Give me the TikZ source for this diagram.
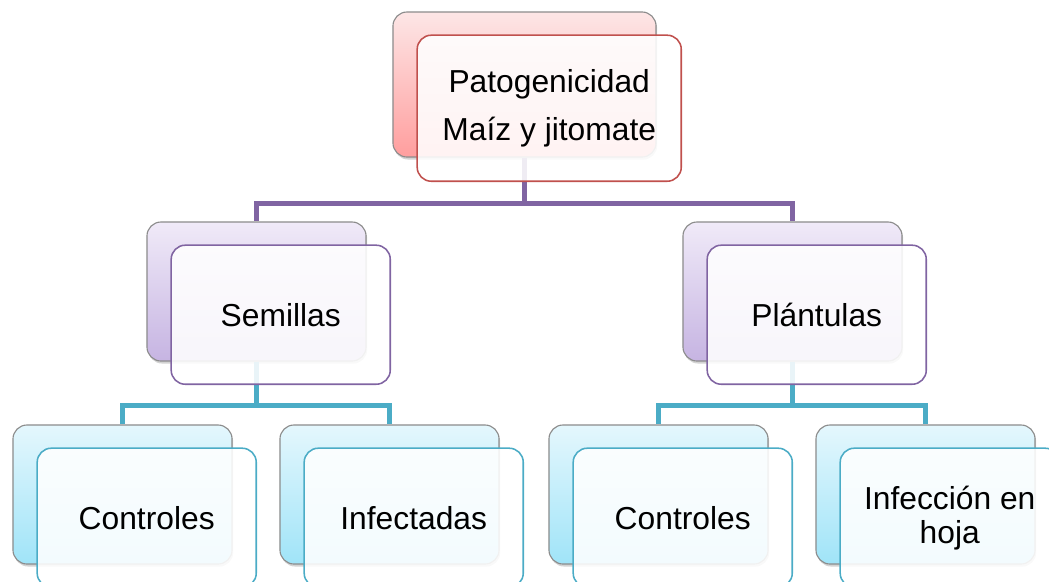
\documentclass[tikz,border=0pt]{standalone}
\usepackage{fontspec}
\setmainfont{Liberation Sans}
\usepackage{xcolor}
\definecolor{myred}{RGB}{192,80,77}
\definecolor{mypurple}{RGB}{128,100,162}
\definecolor{myteal}{RGB}{75,172,198}
\definecolor{redtop}{RGB}{253,230,230}
\definecolor{redbot}{RGB}{255,158,158}
\definecolor{purtop}{RGB}{240,234,248}
\definecolor{purbot}{RGB}{198,180,226}
\definecolor{tealtop}{RGB}{228,247,253}
\definecolor{tealbot}{RGB}{160,228,248}
\usepackage{tikz}
\usetikzlibrary{positioning}
\usetikzlibrary{shadows}
\tikzset{back node/.style={rectangle,rounded corners=10pt,draw=gray!90,line width=0.8pt,minimum width=5.475cm,minimum height=3.475cm,inner sep=0pt,drop shadow={shadow xshift=0.8pt,shadow yshift=-1.8pt,opacity=0.35}},
	front node/.style={rectangle,rounded corners=10pt,draw,line width=1.1pt,fill=white,fill opacity=0.88,text opacity=1,minimum width=5.475cm,minimum height=3.475cm,inner sep=0pt,align=center,font=\fontsize{22.6}{24}\selectfont},
	link/.style={line width=3.6pt},}

\begin{document}
\begin{tikzpicture}[x=0.025cm, y=-0.025cm]
	\useasboundingbox (0,0) rectangle (1049,581);
	\node[back node, minimum width=6.575cm, minimum height=3.625cm, top color=redtop, bottom color=redbot] (topB) at (524.5,84.5) {};
	\node[back node, top color=purtop, bottom color=purbot] (semB) at (256.5,291.5) {};
	\node[back node, top color=purtop, bottom color=purbot] (plaB) at (792.5,291.5) {};
	\node[back node, top color=tealtop, bottom color=tealbot] (ctlaB) at (122.5,494.5) {};
	\node[back node, top color=tealtop, bottom color=tealbot] (infB) at (389.5,494.5) {};
	\node[back node, top color=tealtop, bottom color=tealbot] (ctlbB) at (658.5,494.5) {};
	\node[back node, top color=tealtop, bottom color=tealbot] (hojB) at (925.5,494.5) {};

	\draw[link, mypurple] (topB.south) -- ++(0,46) -| (semB.north);
	\draw[link, mypurple] (topB.south) -- ++(0,46) -| (plaB.north);
	\draw[link, myteal] (semB.south) -- ++(0,44) -| (ctlaB.north);
	\draw[link, myteal] (semB.south) -- ++(0,44) -| (infB.north);
	\draw[link, myteal] (plaB.south) -- ++(0,44) -| (ctlbB.north);
	\draw[link, myteal] (plaB.south) -- ++(0,44) -| (hojB.north);

	\node[front node, draw=myred, minimum width=6.6cm, minimum height=3.65cm, font=\fontsize{22.6}{34}\selectfont] (topF) [below right=0.575cm and 0.6cm of topB.north west] {Patogenicidad\\Maíz y jitomate};
	\node[front node, draw=mypurple] (semF) [below right=0.575cm and 0.6cm of semB.north west] {Semillas};
	\node[front node, draw=mypurple] (plaF) [below right=0.575cm and 0.6cm of plaB.north west] {Plántulas};
	\node[front node, draw=myteal] (ctlaF) [below right=0.575cm and 0.6cm of ctlaB.north west] {Controles};
	\node[front node, draw=myteal] (infF) [below right=0.575cm and 0.6cm of infB.north west] {Infectadas};
	\node[front node, draw=myteal] (ctlbF) [below right=0.575cm and 0.6cm of ctlbB.north west] {Controles};
	\node[front node, draw=myteal] (hojF) [below right=0.575cm and 0.6cm of hojB.north west] {Infección en\\hoja};
\end{tikzpicture}
\end{document}
